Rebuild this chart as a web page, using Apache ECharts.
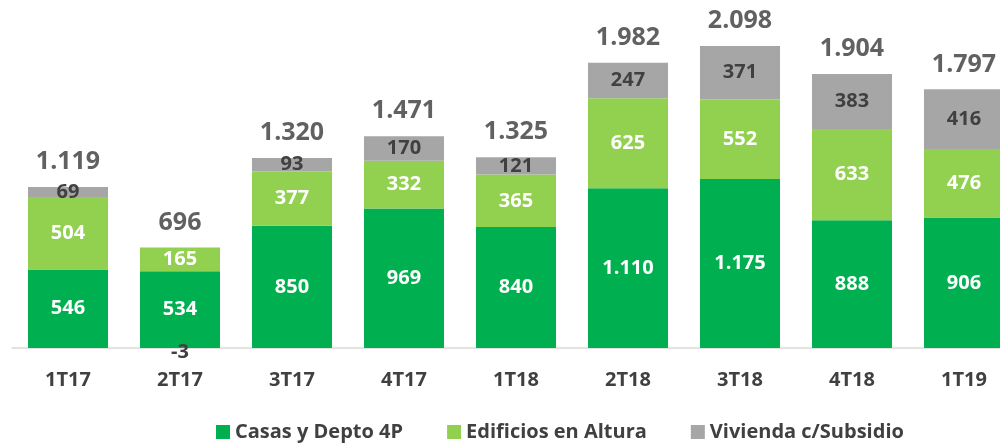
<!DOCTYPE html>
<html>
<head>
<meta charset="utf-8">
<script src="https://cdn.jsdelivr.net/npm/echarts@6/dist/echarts.min.js"></script>
<style>
  html, body { margin: 0; padding: 0; background: #fff; }
  #chart { width: 1000px; height: 444px; }
</style>
</head>
<body>
<div id="chart"></div>
<script>
const categories = ['1T17', '2T17', '3T17', '4T17', '1T18', '2T18', '3T18', '4T18', '1T19'];
const casas = [546, 534, 850, 969, 840, 1110, 1175, 888, 906];
const edificios = [504, 165, 377, 332, 365, 625, 552, 633, 476];
const vivienda = [69, -3, 93, 170, 121, 247, 371, 383, 416];
const totals = [1119, 696, 1320, 1471, 1325, 1982, 2098, 1904, 1797];

// 1.110 style thousands separator
const fmt = v => String(v).replace(/\B(?=(\d{3})+(?!\d))/g, '.');

const valueFont = { fontFamily: 'Open Sans', fontWeight: 'bold', fontSize: 20 };
const textFont = { fontFamily: 'Open Sans', fontWeight: 'bold', color: '#404040' };

const chart = echarts.init(document.getElementById('chart'));
chart.setOption({
  animation: false,
  grid: { left: 12, width: 1008, top: 17, bottom: 96, outerBoundsMode: 'none', containLabel: false },
  legend: {
    bottom: -3,
    left: 211,
    itemWidth: 14,
    itemHeight: 14,
    itemGap: 44,
    icon: 'rect',
    textStyle: { ...textFont, fontSize: 20 },
    data: ['Casas y Depto 4P', 'Edificios en Altura', 'Vivienda c/Subsidio']
  },
  xAxis: {
    type: 'category',
    data: categories,
    axisLine: { lineStyle: { color: '#D9D9D9', width: 1.5 } },
    axisTick: { show: false },
    axisLabel: { margin: 22, ...textFont, fontSize: 20 }
  },
  yAxis: { type: 'value', min: 0, max: 2300, show: false, splitLine: { show: false } },
  series: [
    {
      name: 'Casas y Depto 4P', type: 'bar', stack: 'total', barWidth: 80,
      itemStyle: { color: '#00B050' },
      label: { show: true, position: 'inside', color: '#fff', formatter: p => fmt(p.value), ...valueFont },
      data: casas
    },
    {
      name: 'Edificios en Altura', type: 'bar', stack: 'total',
      itemStyle: { color: '#92D050' },
      label: { show: true, position: 'inside', color: '#fff', formatter: p => fmt(p.value), ...valueFont },
      data: edificios
    },
    {
      name: 'Vivienda c/Subsidio', type: 'bar', stack: 'total',
      itemStyle: { color: '#A6A6A6' },
      label: { show: true, position: 'inside', color: '#404040', formatter: p => fmt(p.value), ...valueFont },
      data: vivienda.map(v => v < 0 ? { value: v, label: { offset: [0, 4] } } : v)
    },
    {
      name: 'Total', type: 'scatter', symbolSize: 1,
      itemStyle: { color: 'rgba(0,0,0,0)' },
      label: {
        show: true, position: 'top', distance: 12, color: '#3A3A3A',
        fontFamily: 'Open Sans', fontWeight: 'bold', fontSize: 25,
        formatter: p => fmt(p.value)
      },
      data: totals
    }
  ]
});
</script>
</body>
</html>
